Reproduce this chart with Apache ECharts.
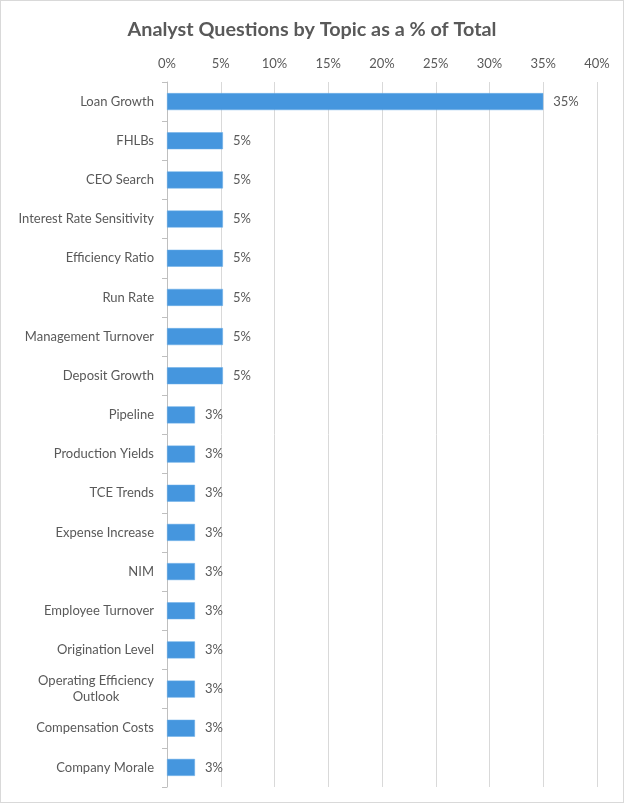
<!DOCTYPE html>
<html>
<head>
<meta charset="utf-8">
<script src="https://cdn.jsdelivr.net/npm/echarts@6/dist/echarts.min.js"></script>
<style>
html,body{margin:0;padding:0;background:#fff;}
#c{width:622px;height:801px;border:1px solid #d9d9d9;}
</style>
</head>
<body>
<div id="c"></div>
<script>
const categories = ["Loan Growth","FHLBs","CEO Search","Interest Rate Sensitivity","Efficiency Ratio","Run Rate","Management Turnover","Deposit Growth","Pipeline","Production Yields","TCE Trends","Expense Increase","NIM","Employee Turnover","Origination Level","Operating Efficiency Outlook","Compensation Costs","Company Morale"];
const values = [35,5.2,5.2,5.2,5.2,5.2,5.2,5.2,2.6,2.6,2.6,2.6,2.6,2.6,2.6,2.6,2.6,2.6];
const tickValues = [0,5,10,15,20,25,30,35,40];

const chart = echarts.init(document.getElementById('c'));
const FONT = 'Lato';
const FS = 13;
chart.setOption({
  animation:false,
  title:{text:'Analyst Questions by Topic as a % of Total',left:'center',top:14,
    textStyle:{fontFamily:FONT,fontSize:19.8,fontWeight:'bold',color:'#595959'}},
  grid:{left:166,right:26,top:81,bottom:15,containLabel:false},
  xAxis:{type:'value',position:'top',min:tickValues[0],max:tickValues[tickValues.length-1],interval:5,
    axisLine:{show:false},axisTick:{show:false},
    splitLine:{lineStyle:{color:'#d9d9d9',width:1}},
    axisLabel:{formatter:v=>v+'%',color:'#595959',fontFamily:FONT,fontSize:FS,margin:12}},
  yAxis:{type:'category',data:categories,inverse:true,
    axisLine:{lineStyle:{color:'#bfbfbf'}},
    axisTick:{show:true,length:5,lineStyle:{color:'#bfbfbf'}},
    axisLabel:{color:'#595959',fontFamily:FONT,fontSize:FS,margin:13,
      formatter:v=>v==='Operating Efficiency Outlook'?'{a|Operating Efficiency}\n{b|Outlook}':v,
      rich:{a:{color:'#595959',fontFamily:FONT,fontSize:FS,lineHeight:16},
            b:{color:'#595959',fontFamily:FONT,fontSize:FS,lineHeight:16,align:'center'}}}},
  series:[{type:'bar',data:values,barWidth:17,
    itemStyle:{color:'#4596de',borderColor:'#6aaee8',borderWidth:0.5},
    label:{show:true,position:'right',distance:10,color:'#595959',fontFamily:FONT,fontSize:FS,
      formatter:p=>Math.round(p.value)+'%'}}]
});
</script>
</body>
</html>
